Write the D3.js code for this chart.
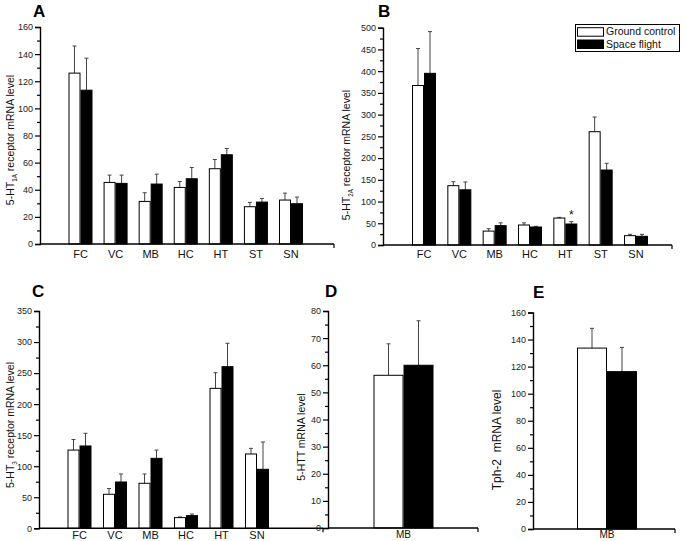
<!DOCTYPE html>
<html><head><meta charset="utf-8">
<script src="https://cdn.jsdelivr.net/npm/d3@7"></script>
<style>body{margin:0;background:#fff}svg{display:block;font-family:"Liberation Sans",Arial,sans-serif}</style>
</head><body>
<svg id="c" width="685" height="541"></svg>
<script>
// ---- data ----
const regions7 = ["FC","VC","MB","HC","HT","ST","SN"];
const regions6 = ["FC","VC","MB","HC","HT","SN"];
const regions1 = ["MB"];

const groundA = [126, 45.4, 31.4, 41.7, 55.5, 27.5, 32.4];
const groundAerr = [20, 5.4, 6.4, 4.4, 6.8, 3.2, 5.1];
const flightA = [113.4, 44.7, 44.2, 48.1, 65.8, 30.9, 29.7];
const flightAerr = [23.6, 6.1, 7.3, 8.3, 4.6, 2.7, 4.9];

const groundB = [367, 136.5, 32, 46, 62, 260.7, 21.5];
const groundBerr = [85, 9.2, 5.6, 5, 1.6, 33.8, 3];
const flightB = [395, 127, 44.5, 41.4, 48.3, 172.5, 20];
const flightBerr = [96, 18, 6.5, 1.6, 5.4, 15.5, 4.5];

const groundC = [126, 54.8, 72.5, 17.2, 225.4, 119.7];
const groundCerr = [17, 9.2, 15, 1.1, 25.3, 9.1];
const flightC = [132.6, 74.6, 112.7, 20.4, 260.3, 95];
const flightCerr = [20.4, 12.9, 13.3, 2.6, 37.7, 44];

const groundD = [56.3], groundDerr = [11.6];
const flightD = [60], flightDerr = [16.4];
const groundE = [133.7], groundEerr = [14.6];
const flightE = [116.3], flightEerr = [17.9];

const ticksA = [0,20,40,60,80,100,120,140,160];
const ticksB = [0,50,100,150,200,250,300,350,400,450,500];
const ticksC = [0,50,100,150,200,250,300,350];
const ticksD = [0,10,20,30,40,50,60,70,80];
const ticksE = [0,20,40,60,80,100,120,140,160];

const seriesNames = ["Ground control","Space flight"];

// ---- drawing ----
const svg = d3.select("#c");

function panel(o){
  const g = svg.append("g");
  const y = d3.scaleLinear().domain([0, o.max]).range([o.y0, o.y1]);
  const x = d3.scalePoint().domain(o.cats).range([o.c0, o.c1]);
  const w = o.bw;
  const step = o.ticks[1]-o.ticks[0];
  const minor = o.ticks.slice(0,-1).map(t=>t+step/2);

  const series = [
    {v:o.g, e:o.ge, fill:"#fff", off:-w},
    {v:o.f, e:o.fe, fill:"#000", off:0}
  ];
  series.forEach(s=>{
    o.cats.forEach((c,i)=>{
      const ex = x(c)+s.off + w/2;
      g.append("line").attr("x1",ex).attr("x2",ex)
        .attr("y1",y(s.v[i])).attr("y2",y(s.v[i]+s.e[i]))
        .attr("stroke","#444").attr("stroke-width",1);
      g.append("line").attr("x1",ex-2).attr("x2",ex+2)
        .attr("y1",y(s.v[i]+s.e[i])).attr("y2",y(s.v[i]+s.e[i]))
        .attr("stroke","#444").attr("stroke-width",1);
    });
    g.selectAll(null).data(o.cats).enter().append("rect")
      .attr("x",(c)=>x(c)+s.off+0.5)
      .attr("y",(c,i)=>y(s.v[i]))
      .attr("width",w-1)
      .attr("height",(c,i)=>y(0)-y(s.v[i]))
      .attr("fill",s.fill).attr("stroke","#000").attr("stroke-width",1);
  });

  const ax = g.append("g").attr("transform",`translate(${o.ax},0)`)
    .call(d3.axisLeft(y).tickValues(o.ticks).tickSize(5).tickPadding(2).tickFormat(d3.format("d")));
  ax.select(".domain").attr("stroke-width",1.4);
  ax.selectAll(".tick line").attr("stroke-width",1.2);
  ax.selectAll("text").attr("font-size",9).attr("font-family","Liberation Sans, Arial, sans-serif").attr("fill","#222");
  const axm = g.append("g").attr("transform",`translate(${o.ax},0)`)
    .call(d3.axisLeft(y).tickValues(minor).tickSize(3).tickFormat(""));
  axm.select(".domain").remove();
  axm.selectAll(".tick line").attr("stroke-width",1.2);

  g.append("line").attr("x1",o.ax).attr("x2",o.xEnd).attr("y1",y(0)).attr("y2",y(0))
    .attr("stroke","#000").attr("stroke-width",1.4);
  g.append("line").attr("x1",o.xEnd).attr("x2",o.xEnd).attr("y1",y(0)).attr("y2",y(0)+4)
    .attr("stroke","#000").attr("stroke-width",1.2);

  g.selectAll(null).data(o.cats).enter().append("text")
    .attr("x",c=>x(c)).attr("y",o.labY).attr("text-anchor","middle")
    .attr("font-size",o.catFs).attr("fill","#111").text(c=>c);

  g.append("text").attr("x",o.lx).attr("y",o.ly).attr("font-size",17)
    .attr("font-weight","bold").attr("fill","#000").text(o.letter);

  const t = g.append("text").attr("transform",`translate(${o.ylx},${o.yly}) rotate(-90)`)
    .attr("text-anchor","middle").attr("font-size",o.ylFs).attr("fill","#111");
  o.ylab.forEach(p=>{
    const ts = t.append("tspan").text(p.t);
    if(p.sub) ts.attr("font-size",o.ylFs*0.6).attr("dy",3);
    else if(p.after) ts.attr("dy",-3);
  });
  return {g,x,y};
}

panel({letter:"A", lx:33, ly:17, cats:regions7, g:groundA, ge:groundAerr, f:flightA, fe:flightAerr,
  max:160, ticks:ticksA, y0:244, y1:27, ax:40, xEnd:334, c0:80.5, c1:291, bw:12, labY:258, catFs:11,
  ylx:14, yly:140, ylFs:10.5, ylab:[{t:"5-HT"},{t:"1A",sub:true},{t:" receptor mRNA level",after:true}]});

const pB = panel({letter:"B", lx:378, ly:17, cats:regions7, g:groundB, ge:groundBerr, f:flightB, fe:flightBerr,
  max:500, ticks:ticksB, y0:245, y1:27.7, ax:383, xEnd:672, c0:424, c1:636, bw:12, labY:258, catFs:11,
  ylx:350, yly:155, ylFs:10.5, ylab:[{t:"5-HT"},{t:"2A",sub:true},{t:" receptor mRNA level",after:true}]});

pB.g.append("text").attr("x",pB.x("HT")+6).attr("y",pB.y(flightB[4]+flightBerr[4])-3)
  .attr("text-anchor","middle").attr("font-size",12).attr("fill","#111").text("*");

panel({letter:"C", lx:32, ly:297, cats:regions6, g:groundC, ge:groundCerr, f:flightC, fe:flightCerr,
  max:350, ticks:ticksC, y0:528.3, y1:311, ax:39, xEnd:323, c0:79.5, c1:257, bw:12, labY:539, catFs:11,
  ylx:14, yly:425, ylFs:10.5, ylab:[{t:"5-HT"},{t:"3",sub:true},{t:" receptor mRNA level",after:true}]});

panel({letter:"D", lx:325, ly:297, cats:regions1, g:groundD, ge:groundDerr, f:flightD, fe:flightDerr,
  max:80, ticks:ticksD, y0:528, y1:311, ax:328, xEnd:478, c0:403.5, c1:403.5, bw:30, labY:538, catFs:10,
  ylx:305, yly:437, ylFs:10.5, ylab:[{t:"5-HTT mRNA level"}]});

panel({letter:"E", lx:533, ly:298, cats:regions1, g:groundE, ge:groundEerr, f:flightE, fe:flightEerr,
  max:160, ticks:ticksE, y0:529, y1:312.5, ax:533, xEnd:675, c0:607, c1:607, bw:30, labY:538, catFs:10,
  ylx:501, yly:440, ylFs:12, ylab:[{t:"Tph-2\u00a0\u00a0mRNA level"}]});

const lg = svg.append("g");
lg.append("rect").attr("x",575.5).attr("y",24.5).attr("width",104).attr("height",27)
  .attr("fill","#fff").attr("stroke","#000").attr("stroke-width",1);
const lgY = d3.scalePoint().domain(seriesNames).range([27.7, 40]);
lg.selectAll(null).data(seriesNames).enter().append("rect")
  .attr("x",577.5).attr("y",d=>lgY(d)).attr("width",26).attr("height",8.5)
  .attr("fill",(d,i)=>i===0?"#fff":"#000").attr("stroke","#000").attr("stroke-width",1);
lg.selectAll(null).data(seriesNames).enter().append("text")
  .attr("x",606).attr("y",d=>lgY(d)+7.5).attr("font-size",10.5).attr("fill","#111").text(d=>d);
</script>
</body></html>
